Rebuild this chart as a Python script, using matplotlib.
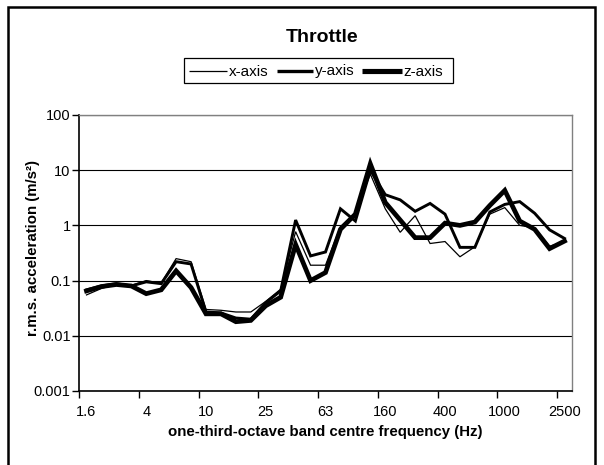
import matplotlib
matplotlib.use("Agg")
import matplotlib.pyplot as plt
import numpy as np
from matplotlib.patches import Rectangle
from matplotlib.lines import Line2D

plt.rcParams['font.family'] = ['Liberation Sans', 'DejaVu Sans']

bands = ["1.6", "2", "2.5", "3.15", "4", "5", "6.3", "8", "10", "12.5", "16", "20",
         "25", "31.5", "40", "50", "63", "80", "100", "125", "160", "200", "250",
         "315", "400", "500", "630", "800", "1000", "1250", "1600", "2000", "2500"]

x_axis = [0.055, 0.072, 0.085, 0.082, 0.100, 0.090, 0.250, 0.220, 0.030, 0.029, 0.027,
          0.027, 0.042, 0.070, 0.770, 0.190, 0.190, 0.950, 1.700, 8.500, 2.000, 0.750,
          1.500, 0.470, 0.510, 0.270, 0.410, 1.600, 2.100, 1.000, 0.900, 0.420, 0.500]
y_axis = [0.068, 0.080, 0.088, 0.080, 0.095, 0.088, 0.220, 0.200, 0.027, 0.026, 0.021,
          0.020, 0.040, 0.065, 1.250, 0.280, 0.330, 2.000, 1.200, 10.00, 3.600, 2.900,
          1.800, 2.500, 1.600, 0.400, 0.400, 1.750, 2.400, 2.700, 1.660, 0.830, 0.580]
z_axis = [0.065, 0.078, 0.085, 0.080, 0.058, 0.068, 0.150, 0.075, 0.025, 0.025, 0.018,
          0.019, 0.035, 0.050, 0.450, 0.100, 0.140, 0.850, 1.600, 13.00, 2.600, 1.250,
          0.600, 0.600, 1.100, 1.000, 1.150, 2.300, 4.300, 1.200, 0.850, 0.380, 0.520]

series = [("x-axis", x_axis, 0.9), ("y-axis", y_axis, 2.1), ("z-axis", z_axis, 3.4)]

W, H = 604, 465
fig = plt.figure(figsize=(W / 100, H / 100), dpi=100)
ax = fig.add_axes([79 / W, 1 - 391 / H, (572 - 79) / W, (391 - 115) / H])

xs = np.arange(len(bands))
for name, vals, lw in series:
    ax.plot(xs, vals, color='black', lw=lw, label=name, solid_joinstyle='miter')

ax.set_yscale('log')
ax.set_ylim(0.001, 100)
ax.set_xlim(-0.5, len(bands) - 0.5)
yt = [0.001, 0.01, 0.1, 1, 10, 100]
ax.set_yticks(yt)
ax.set_yticklabels(["0.001", "0.01", "0.1", "1", "10", "100"])
ax.yaxis.set_minor_locator(matplotlib.ticker.NullLocator())
ax.yaxis.grid(True, color='black', lw=0.8)
ax.set_axisbelow(True)

lab_idx = xs[::4]
ax.set_xticks(lab_idx)
ax.set_xticklabels([bands[i] for i in lab_idx])
ax.set_xticks(np.arange(-0.5, len(bands) - 1, 4), minor=True)
ax.tick_params(axis='x', which='major', length=0, pad=10, labelsize=10.5)
ax.tick_params(axis='x', which='minor', length=5, width=1, direction='out')
ax.tick_params(axis='y', which='major', length=5, width=1, direction='out', pad=1,
               labelsize=10.5)

for s in ['left', 'bottom']:
    ax.spines[s].set_color('black')
    ax.spines[s].set_linewidth(1.2)
for s in ['top', 'right']:
    ax.spines[s].set_color('#808080')
    ax.spines[s].set_linewidth(1.0)

fig.text(33 / W, 1 - 248 / H, "r.m.s. acceleration (m/s²)", rotation=90,
         ha='center', va='center', fontsize=10.8, fontweight='bold')
fig.text(((79 + 572) / 2) / W, 1 - 432 / H, "one-third-octave band centre frequency (Hz)",
         ha='center', va='center', fontsize=10.8, fontweight='bold')
fig.text(322 / W, 1 - 37 / H, "Throttle", ha='center', va='center',
         fontsize=14, fontweight='bold')

# legend, drawn by hand in figure pixels
def fx(px):
    return px / W

def fy(py):
    return 1 - py / H

fig.patches.append(Rectangle((fx(184), fy(83)), fx(453) - fx(184), fy(58) - fy(83),
                             transform=fig.transFigure, fill=False,
                             edgecolor='black', lw=0.9))
leg_items = [(189, 227, 229), (277, 313, 315), (362, 402, 403)]
for (name, vals, lw), (l0, l1, tx) in zip(series, leg_items):
    fig.lines.append(Line2D([fx(l0), fx(l1)], [fy(71), fy(71)], transform=fig.transFigure,
                            color='black', lw=lw + (0.3 if lw > 1 else 0),
                            solid_capstyle='butt'))
    fig.text(fx(tx), fy(75.5), name, ha='left', va='baseline', fontsize=11)

fig.patches.append(Rectangle((8 / W, -0.05), (595 - 8) / W, 1.05 - 7 / H,
                             transform=fig.transFigure, fill=False,
                             edgecolor='black', lw=1.8))

fig.savefig("out.png", dpi=100)
